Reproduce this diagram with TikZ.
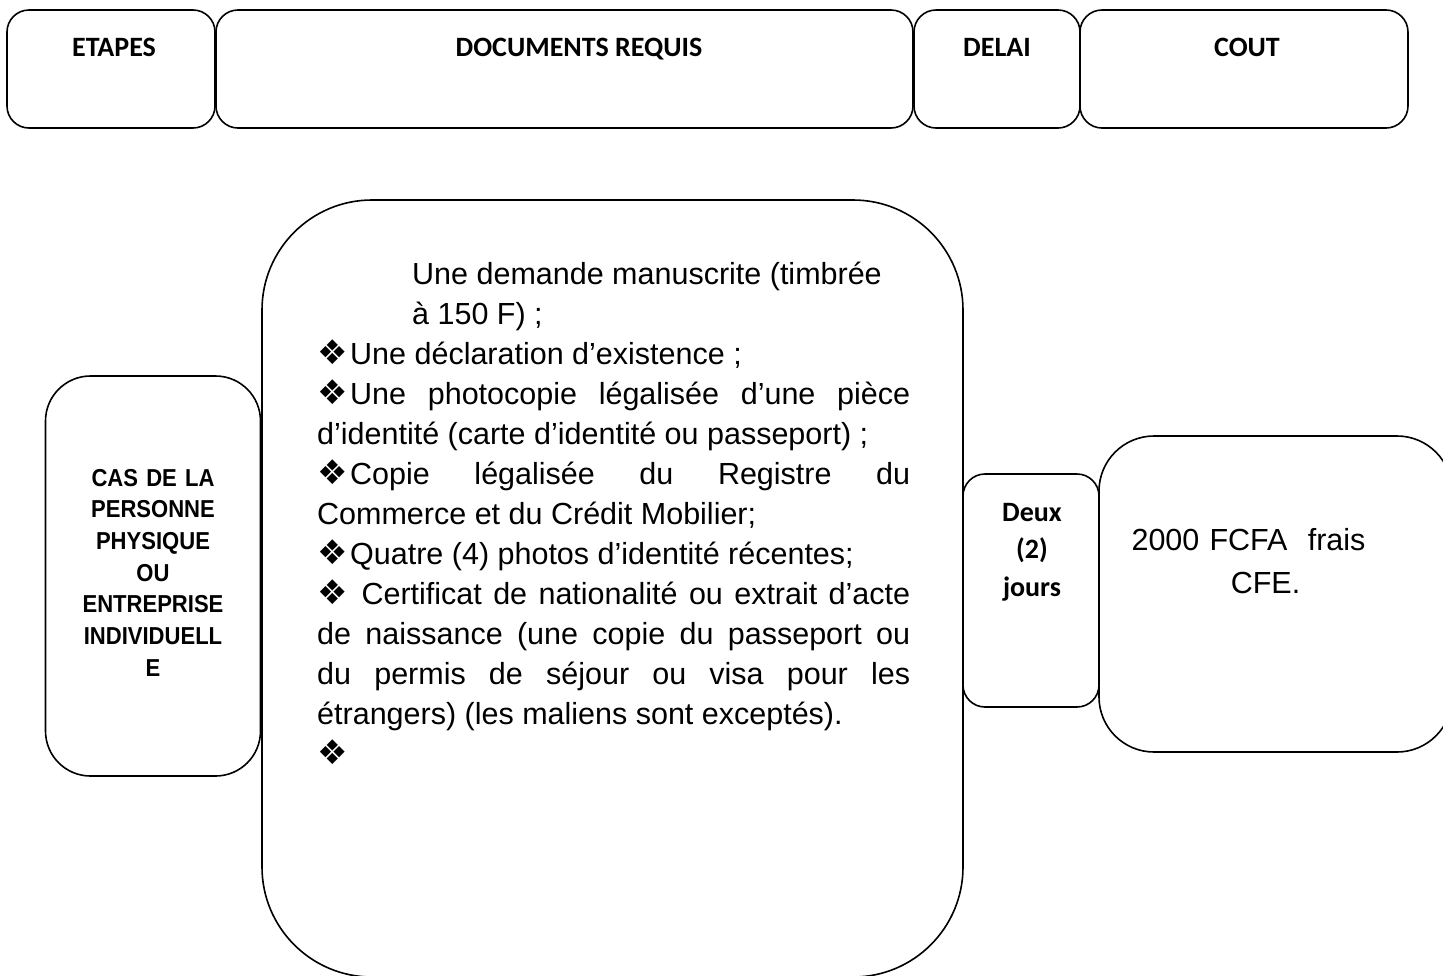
\documentclass[tikz,border=0pt]{standalone}
\usepackage{fontspec}
\setmainfont{Liberation Sans}
\newfontfamily\calibri{Carlito}
\newfontfamily\etroit[FakeStretch=0.9]{Liberation Sans}
\newfontfamily\dejavu{DejaVu Sans}
\newcommand\puce{\makebox[33pt][l]{\dejavu\fontsize{34}{34}\selectfont ❖}}

\begin{document}
\begin{tikzpicture}[x=1pt,y=-1pt,
	boite/.style={draw,line width=1.6pt,rounded corners=#1,inner sep=0pt},
	titre/.style={anchor=base,inner sep=0pt,font=\calibri\bfseries\fontsize{28}{37.5}\selectfont}]
\useasboundingbox (0,0) rectangle (1443,975);
% en-tetes
\foreach \nom/\cx/\w/\tx/\txt in {etapes/111/208/114/ETAPES, documents/564.5/697/579/DOCUMENTS REQUIS,
	delai/997/166/997/DELAI, cout/1244/328/1247/COUT} {
	\node[boite=22pt,minimum width=\w pt,minimum height=118pt] (\nom) at (\cx,69) {};
	\node[titre] (\nom-t) at (\tx,56) {\txt};
}
% cas de la personne physique
\node[boite=45pt,minimum width=215pt,minimum height=400pt] (cas) at (153,576) {};
\node[boite=110pt,minimum width=701pt,minimum height=777pt] (pieces) at (612.5,588.5) {};
\node[boite=22pt,minimum width=136pt,minimum height=233pt] (duree) at (1031,590.5) {};
\node[boite=55pt,minimum width=353pt,minimum height=316pt] (frais) at (1275.5,594) {};
\node[anchor=base,inner sep=0pt,text width=210pt,align=center,
	font=\etroit\bfseries\fontsize{24.5}{31.7}\selectfont] (cas-t) at (153,486)
	{CAS DE LA\\PERSONNE\\PHYSIQUE\\OU\\ENTREPRISE\\INDIVIDUELL\\E};
\node[anchor=base west,inner sep=0pt,text width=593pt,align=justify,
	font=\fontsize{30.5}{40}\selectfont] (pieces-t) at (317,284) {%
	\tolerance=10000\hyphenpenalty=10000%
	\hspace*{95pt}Une demande manuscrite (timbrée\\
	\hspace*{95pt}à 150 F) ;\par
	\puce Une déclaration d’existence ;\par
	\puce Une photocopie légalisée d’une pièce\linebreak
	d’identité (carte d’identité ou passeport) ;\par
	\puce Copie légalisée du Registre du\linebreak
	Commerce et du Crédit Mobilier;\par
	\puce Quatre (4) photos d’identité récentes;\par
	\puce\ Certificat de nationalité ou extrait d’acte\linebreak
	de naissance (une copie du passeport ou\linebreak
	du permis de séjour ou visa pour les\linebreak
	étrangers) (les maliens sont exceptés).\par
	\puce\par};
\node[titre,text width=130pt,align=center] (duree-t) at (1032,521) {Deux\\(2)\\jours};
\node[anchor=base,inner sep=0pt,text width=330pt,align=center,
	font=\fontsize{30.5}{43}\selectfont] (frais-t) at (1265.5,550)
	{2000 FCFA\ \ frais\mbox{\hspace{34pt}}\\CFE.};
\end{tikzpicture}
\end{document}
